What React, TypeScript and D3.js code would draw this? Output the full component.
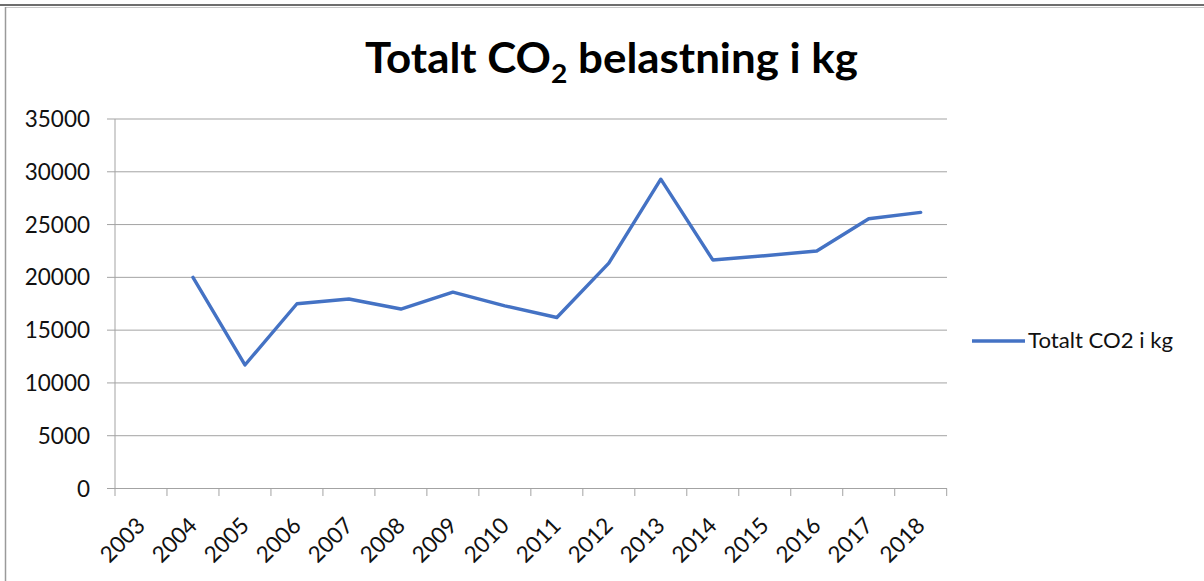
import React, { useLayoutEffect, useRef, useState } from "react";
import * as d3 from "d3";

const years = ["2003","2004","2005","2006","2007","2008","2009","2010","2011","2012","2013","2014","2015","2016","2017","2018"];
const co2Values: (number | null)[] = [null, 20000, 11700, 17500, 17950, 17000, 18600, 17300, 16200, 21350, 29300, 21650, 22050, 22500, 25550, 26150];
const yTicks = [0, 5000, 10000, 15000, 20000, 25000, 30000, 35000];
const seriesName = "Totalt CO2 i kg";
const titleMain = "Totalt CO";
const titleSub = "2";
const titleRest = " belastning i kg";

const W = 1204;
const H = 581;
const FONT = "Lato, 'Open Sans', sans-serif";
const LINE_COLOR = "#4472C4";
const GRID = "#a3a3a3";

export default function App() {
  const x = d3.scaleBand<string>().domain(years).range([115, 946.7]).paddingInner(0).paddingOuter(0);
  const y = d3.scaleLinear().domain([0, 35000]).range([488.5, 119]);

  const pts = years
    .map((yr, i) => ({ yr, v: co2Values[i] }))
    .filter((d) => d.v !== null) as { yr: string; v: number }[];
  const line = d3
    .line<{ yr: string; v: number }>()
    .x((d) => (x(d.yr) as number) + x.bandwidth() / 2)
    .y((d) => y(d.v));

  const titleRef = useRef<SVGTextElement>(null);
  const [titleScale, setTitleScale] = useState(1);
  useLayoutEffect(() => {
    if (titleRef.current) {
      const w = titleRef.current.getBBox().width;
      if (w > 0) setTitleScale(493 / w);
    }
  }, []);

  const boundaries = [...years.map((yr) => x(yr) as number), 946.7];

  return (
    <svg width={W} height={H} style={{ position: "absolute", left: 0, top: 0, background: "#fff" }}>
      {/* frame */}
      <line x1={0} x2={W} y1={5} y2={5} stroke="#6e6e6e" strokeWidth={2} />
      <line x1={5} x2={W} y1={7.5} y2={7.5} stroke="#c8c8c8" strokeWidth={1} />
      <line x1={5.5} x2={5.5} y1={7} y2={H} stroke="#9a9a9a" strokeWidth={1.5} />

      {/* title */}
      <g transform={`translate(611.5,73.3) scale(${titleScale},1)`}>
        <text ref={titleRef} textAnchor="middle" fontFamily={FONT} fontWeight={700} fontSize={42} fill="#000">
          {titleMain}
          <tspan fontSize={27} dy={10}>{titleSub}</tspan>
          <tspan dy={-10}>{titleRest}</tspan>
        </text>
      </g>

      {/* gridlines */}
      {yTicks.map((t) => (
        <line key={t} x1={107} x2={947} y1={y(t)} y2={y(t)} stroke={GRID} strokeWidth={1} />
      ))}
      {/* y axis line */}
      <line x1={115} x2={115} y1={y(35000)} y2={y(0)} stroke={GRID} strokeWidth={1} />
      {/* x ticks */}
      {boundaries.map((bx, i) => (
        <line key={i} x1={bx} x2={bx} y1={y(0)} y2={y(0) + 7.5} stroke={GRID} strokeWidth={1} />
      ))}

      {/* y labels */}
      {yTicks.map((t) => (
        <text key={t} x={90} y={y(t) + 8} textAnchor="end" fontFamily={FONT} fontSize={22.5} fill="#111">
          {t}
        </text>
      ))}

      {/* x labels */}
      {years.map((yr) => {
        const cx = (x(yr) as number) + x.bandwidth() / 2 + 5.5;
        const cy = y(0) + 38.5;
        return (
          <text key={yr} transform={`translate(${cx},${cy}) rotate(-45)`} textAnchor="end" fontFamily={FONT} fontSize={22.5} fill="#111">
            {yr}
          </text>
        );
      })}

      {/* series */}
      <path d={line(pts) || ""} fill="none" stroke={LINE_COLOR} strokeWidth={3.4} strokeLinejoin="round" strokeLinecap="round" />

      {/* legend */}
      <line x1={972} x2={1025} y1={341} y2={341} stroke={LINE_COLOR} strokeWidth={3.4} />
      <text x={1028} y={348} fontFamily={FONT} fontSize={21} fill="#111" textLength={145} lengthAdjust="spacingAndGlyphs">
        {seriesName}
      </text>
    </svg>
  );
}
